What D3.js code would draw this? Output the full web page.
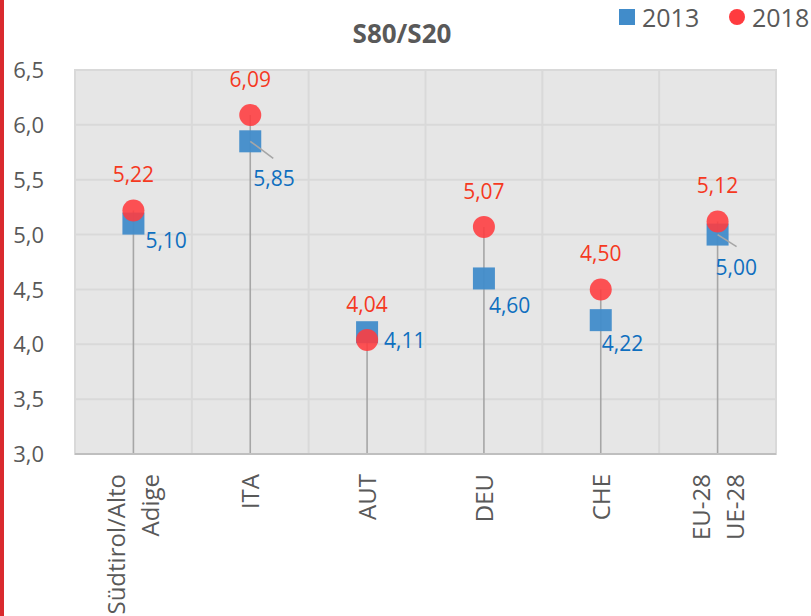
<!DOCTYPE html>
<html>
<head>
<meta charset="UTF-8">
<title>S80/S20</title>
<style>
  body { margin: 0; background: #fff; }
  text { font-family: "Open Sans", "Noto Sans", sans-serif; }
</style>
</head>
<body>
<svg id="chart"></svg>
<script src="https://cdn.jsdelivr.net/npm/d3@7/dist/d3.min.js"></script>
<script>
// data
var categories = ["Südtirol/Alto Adige", "ITA", "AUT", "DEU", "CHE", "EU-28 UE-28"];
var catLines = [["Südtirol/Alto", "Adige"], ["ITA"], ["AUT"], ["DEU"], ["CHE"], ["EU-28", "UE-28"]];
var s2013 = [5.10, 5.85, 4.11, 4.60, 4.22, 5.00];
var s2018 = [5.22, 6.09, 4.04, 5.07, 4.50, 5.12];
var yTicks = [3.0, 3.5, 4.0, 4.5, 5.0, 5.5, 6.0, 6.5];

// where Excel put the 2013 labels (offset from the marker), and which got a leader line
var lab13 = [[12, 24], [3, 45], [17, 16], [5, 35], [1, 31], [-2, 40]];
var leader = [null, [23, 17], null, null, null, [19, 12]];

var W = 811, H = 616;
var plot = {left: 75, right: 776, top: 70, bottom: 454};
var blue = "#418cca", red = "#ff3b3f";
var grey = "#595959";
var fmt = function(v) { return d3.format(".2f")(v).replace(".", ","); };

var svg = d3.select("#chart").attr("width", W).attr("height", H);

// red strip on the left edge
svg.append("rect").attr("x", 0).attr("y", 0).attr("width", 4).attr("height", H).attr("fill", "#d92a2e");

var x = d3.scaleBand().domain(categories).range([plot.left, plot.right]);
var y = d3.scaleLinear().domain([3, 6.5]).range([plot.bottom, plot.top]);
var cx = function(i) { return x(categories[i]) + x.bandwidth() / 2; };

// plot background
svg.append("rect")
  .attr("x", plot.left).attr("y", plot.top)
  .attr("width", plot.right - plot.left).attr("height", plot.bottom - plot.top)
  .attr("fill", "#e6e6e6").attr("stroke", "#d9d9d9").attr("stroke-width", 2);

// horizontal grid
svg.append("g").selectAll("line").data(yTicks).enter().append("line")
  .attr("x1", plot.left).attr("x2", plot.right)
  .attr("y1", function(d) { return y(d); }).attr("y2", function(d) { return y(d); })
  .attr("stroke", "#d9d9d9").attr("stroke-width", 2);

// vertical grid at category borders
svg.append("g").selectAll("line").data(categories.slice(1)).enter().append("line")
  .attr("x1", function(d) { return x(d); }).attr("x2", function(d) { return x(d); })
  .attr("y1", plot.top).attr("y2", plot.bottom)
  .attr("stroke", "#d9d9d9").attr("stroke-width", 2);

// y axis labels
var yAxis = svg.append("g")
  .attr("transform", "translate(" + (plot.left - 28) + ",0)")
  .call(d3.axisLeft(y).tickValues(yTicks).tickSize(0).tickFormat(function(d) { return d3.format(".1f")(d).replace(".", ","); }));
yAxis.select(".domain").remove();
yAxis.selectAll("text").attr("fill", grey).style("font-size", "22px").attr("dy", "0.35em");

// drop lines
svg.append("g").selectAll("line").data(s2018).enter().append("line")
  .attr("x1", function(d, i) { return cx(i); }).attr("x2", function(d, i) { return cx(i); })
  .attr("y1", function(d) { return y(d); }).attr("y2", plot.bottom)
  .attr("stroke", "#a6a6a6").attr("stroke-width", 1.6);

// bottom axis line
svg.append("line")
  .attr("x1", plot.left).attr("x2", plot.right)
  .attr("y1", plot.bottom).attr("y2", plot.bottom)
  .attr("stroke", "#bfbfbf").attr("stroke-width", 2);

// category labels, rotated
var xl = svg.append("g").selectAll("g").data(catLines).enter().append("g")
  .attr("transform", function(d, i) { return "translate(" + cx(i) + ",474) rotate(-90)"; });
xl.append("text")
  .attr("text-anchor", "end")
  .attr("fill", grey)
  .style("font-size", "24px")
  .each(function(lines) {
    var t = d3.select(this);
    lines.forEach(function(s, k) {
      t.append("tspan").attr("x", 0).attr("y", 9 + (k - (lines.length - 1) / 2) * 34).text(s);
    });
  });

// 2013 squares
var sq = 22;
svg.append("g").selectAll("rect").data(s2013).enter().append("rect")
  .attr("x", function(d, i) { return cx(i) - sq / 2; })
  .attr("y", function(d) { return y(d) - sq / 2; })
  .attr("width", sq).attr("height", sq)
  .attr("fill", blue).attr("fill-opacity", 0.95);

// leader lines for moved labels
svg.append("g").selectAll("line").data(s2013).enter()
  .filter(function(d, i) { return leader[i]; })
  .append("line")
  .attr("x1", function(d) { return cx(s2013.indexOf(d)); })
  .attr("y1", function(d) { return y(d); })
  .attr("x2", function(d) { var i = s2013.indexOf(d); return cx(i) + leader[i][0]; })
  .attr("y2", function(d) { var i = s2013.indexOf(d); return y(d) + leader[i][1]; })
  .attr("stroke", "#a6a6a6").attr("stroke-width", 1.6);

// 2018 circles
svg.append("g").selectAll("circle").data(s2018).enter().append("circle")
  .attr("cx", function(d, i) { return cx(i); })
  .attr("cy", function(d) { return y(d); })
  .attr("r", 11)
  .attr("fill", red).attr("fill-opacity", 0.88);

// labels 2018
svg.append("g").selectAll("text").data(s2018).enter().append("text")
  .attr("x", function(d, i) { return cx(i); })
  .attr("y", function(d) { return y(d) - 28; })
  .attr("text-anchor", "middle")
  .attr("fill", "#f5391f")
  .style("font-size", "21px")
  .text(fmt);

// labels 2013
svg.append("g").selectAll("text").data(s2013).enter().append("text")
  .attr("x", function(d, i) { return cx(i) + lab13[i][0]; })
  .attr("y", function(d, i) { return y(d) + lab13[i][1]; })
  .attr("fill", "#0f6fbf")
  .style("font-size", "21px")
  .text(fmt);

// title
svg.append("text")
  .attr("x", 402).attr("y", 43)
  .attr("text-anchor", "middle")
  .attr("fill", grey)
  .style("font-size", "26px").style("font-weight", "bold")
  .text("S80/S20");

// legend
var leg = svg.append("g");
leg.append("rect").attr("x", 619).attr("y", 9).attr("width", 16).attr("height", 16).attr("fill", blue);
leg.append("text").attr("x", 642).attr("y", 27).attr("fill", grey).style("font-size", "25px").text("2013");
leg.append("circle").attr("cx", 737).attr("cy", 17).attr("r", 8).attr("fill", red);
leg.append("text").attr("x", 752).attr("y", 27).attr("fill", grey).style("font-size", "25px").text("2018");
</script>
</body>
</html>
